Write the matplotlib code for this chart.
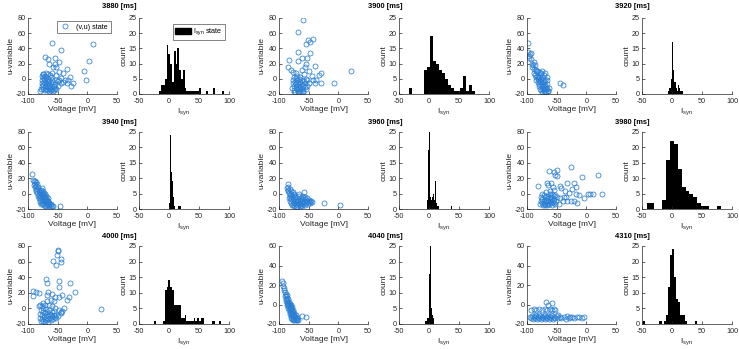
import matplotlib
matplotlib.use('Agg')
import matplotlib.pyplot as plt
from matplotlib.patches import Patch
import numpy as np

plt.rcParams['font.family'] = ['Liberation Sans', 'DejaVu Sans']
plt.rcParams['axes.unicode_minus'] = False
plt.rcParams['mathtext.fontset'] = 'custom'
plt.rcParams['mathtext.rm'] = 'Liberation Sans'
plt.rcParams['mathtext.it'] = 'Liberation Sans:italic'

# ---------------- data ----------------
times = ['3880', '3900', '3920', '3940', '3960', '3980', '4000', '4040', '4310']

pts_3880 = [(-60,47),(-44,38),(10,46),(2,23),(-6,10),(-2,-2),(-35,13),(-29,2),(-28,-10),(-25,-5),
            (-71,29),(-67,26),(-64,20),(-55,27),(-47,22),(-55,20),(-52,16),(-58,15),(-48,9),(-41,7),
            (-44,1),(-38,-1),(-32,-2),(-41,-4),(-50,-3),(-47,-1),(-52,5),(-60,8),(-62,3),(-45,-6),(-35,-5),
            (-78,-14),(-77,-10),(-76,-6),(-76,-2),(-75,2),(-75,6),(-74,-13),(-74,-8),(-73,-4),(-73,0),
            (-72,-15),(-72,-11),(-71,-6),(-71,4),(-70,-13),(-70,-9),(-69,-2),(-69,2),(-68,-15),(-68,-7),
            (-67,-11),(-67,-4),(-66,0),(-65,-14),(-65,-8),(-64,-3),(-63,-12),(-63,5),(-62,-6),(-61,-15),
            (-60,-9),(-60,-1),(-59,-13),(-58,-4),(-57,-10),(-56,-15),(-55,-7),(-54,-12),(-53,-2),(-52,-14),
            (-50,-10),(-79,-16),(-77,4),(-74,6),(-70,7),(-66,6),(-64,-16),(-58,-16)]

pts_3900 = [(-59,78),(-68,62),(-51,51),(-43,52),(-48,48),(-55,46),(-47,34),(-68,35),(-62,28),(-52,28),
            (-68,23),(-83,25),(-55,19),(-40,17),(-32,5),(-30,7),(21,10),(-8,-6),(-29,-5),(-37,-1),
            (-84,15),(-80,12),(-76,9),(-71,7),(-62,12),(-57,15),(-49,10),(-45,4),(-43,-1),(-54,0),
            (-58,6),(-50,-5),(-40,-6),(-65,2),
            (-78,-12),(-77,-6),(-76,-1),(-75,-15),(-75,3),(-74,-9),(-73,-4),(-73,-17),(-72,-12),(-72,1),
            (-71,-7),(-70,-14),(-70,-2),(-69,-10),(-69,4),(-68,-16),(-68,-5),(-67,-12),(-66,-8),(-66,0),
            (-65,-15),(-64,-4),(-64,-11),(-63,-17),(-62,-7),(-62,-1),(-61,-13),(-60,-9),(-59,-16),(-58,-3),
            (-57,-11),(-56,-6),(-55,-14),(-53,-9),(-52,-2),(-74,-18),(-67,-18),(-60,-18)]

pts_3920 = [(-99,47),(-98,35),(-95,33),(-96,30),(-93,34),(-92,20),(-90,18),(-91,15),(-88,13),(-85,12),
            (-84,10),(-80,9),(-77,7),(-70,7),(-67,3),(-66,-1),(-63,-12),(-64,-16),(-44,-6),(-39,-8),
            (-88,8),(-86,5),(-85,2),(-84,-1),(-83,4),(-82,0),(-82,-4),(-81,2),(-80,-2),(-80,-7),
            (-79,3),(-79,-10),(-78,-4),(-78,-13),(-77,0),(-77,-8),(-76,-15),(-76,-3),(-75,-11),(-75,2),
            (-74,-6),(-74,-17),(-73,-13),(-73,-1),(-72,-9),(-72,-16),(-71,-4),(-71,-12),(-70,-17),(-70,-8),
            (-69,-14),(-69,-2),(-68,-11),(-68,-17),(-67,-14),(-66,-7),(-65,-16),(-74,10),(-72,5),(-76,6),
            (-83,10),(-86,18),(-89,22),(-94,26),(-97,28)]

pts_3940 = [(-93,25),(-91,18),(-90,16),(-89,17),(-88,13),(-87,15),(-86,10),(-85,12),(-84,6),(-83,8),
            (-82,3),(-81,5),(-80,0),(-79,2),(-78,-3),(-77,-1),(-76,-5),(-75,-2),(-74,-8),(-73,-4),
            (-72,-10),(-71,-7),(-70,-12),(-69,-9),(-68,-14),(-67,-11),(-66,-15),(-65,-13),(-64,-16),(-63,-15),
            (-62,-16),(-60,-16),(-58,-16),(-46,-16),
            (-84,1),(-82,-2),(-80,-5),(-79,-8),(-77,-10),(-76,-12),(-75,-14),(-73,-15),(-72,-16),(-70,-16),
            (-78,5),(-76,2),(-74,-1),(-72,-4),(-70,-6),(-68,-8),(-67,-6),(-66,-10),(-64,-12),(-62,-13),
            (-80,-11),(-78,-13),(-77,7),(-75,4),(-73,1),(-71,-1),(-69,-3),(-81,-6),(-83,-3),(-86,3),
            (-88,8),(-90,11),(-87,5)]

pts_3960 = [(-85,12),(-86,7),(-85,5),(-84,3),(-83,1),(-82,-2),(-81,-4),(-80,0),(-79,-7),(-78,-3),
            (-77,-10),(-76,-6),(-75,-12),(-74,-2),(-73,-9),(-72,-14),(-71,-5),(-70,-11),(-69,-15),(-68,-8),
            (-67,-3),(-66,-13),(-65,-10),(-64,-16),(-63,-6),(-62,-12),(-61,-9),(-60,-14),(-59,-4),(-58,-11),
            (-57,-7),(-56,-15),(-55,-9),(-54,-12),(-53,-6),(-52,-10),(-51,-13),(-50,-8),(-49,-11),(-48,-9),
            (-47,-12),(-46,-10),(-45,-11),(-58,2),(-25,-12),(3,-15),
            (-82,-9),(-80,-12),(-78,-15),(-76,-14),(-74,-16),(-79,4),(-77,2),(-75,-1),(-73,-5),(-71,-8),
            (-69,-10),(-67,-12),(-65,-14),(-63,-15),(-61,-16),(-72,-17),(-70,-17),(-62,-3),(-60,-7),(-56,-4),
            (-66,-1),(-83,-6),(-84,9),(-81,6)]

pts_3980 = [(-26,34),(-49,31),(-63,29),(-54,28),(-52,24),(-50,23),(-8,22),(20,24),(-32,14),(-21,14),
            (-17,9),(-24,6),(-45,10),(-42,7),(-66,14),(-65,11),(-60,14),(-57,9),(-81,10),(3,0),
            (6,0),(11,-1),(26,-1),(-17,-1),(-12,-2),(-4,-6),(-36,3),(-29,1),(-38,-4),(-52,-2),
            (-45,-6),(-32,-9),(-26,-9),(-20,-9),(-46,-14),(-54,-12),(-55,5),(-58,0),(-62,3),(-68,2),
            (-78,-14),(-77,-9),(-76,-4),(-75,-12),(-74,-7),(-73,-15),(-72,-2),(-71,-10),(-70,-5),(-69,-13),
            (-68,-8),(-67,-15),(-66,-3),(-65,-11),(-64,-6),(-63,-14),(-62,-9),(-61,-1),(-60,-12),(-59,-5),
            (-58,-15),(-57,-8),(-56,-11),(-55,-3),(-54,-7),(-53,-14),(-51,-10),(-50,-5),(-72,-12),(-66,-9),
            (-60,-7),(-64,-13),(-70,-15),(-74,-1),(-62,-4),(-40,-10),(-35,-4),(-15,-12)]

pts_4000 = [(-50,75),(-49,73),(-51,69),(-58,61),(-44,63),(-45,60),(-52,56),(-70,38),(-68,32),(-48,35),
            (-29,32),(-48,27),(-20,21),(-91,22),(-87,21),(-92,16),(-81,20),(-66,21),(-68,17),(-60,18),
            (-55,15),(-62,11),(-57,9),(-48,15),(-42,17),(-34,11),(-31,14),(-79,5),(-82,3),(-74,7),
            (-68,9),(-60,3),(-54,0),(-45,-4),(-48,-2),(-40,0),(-43,-3),(23,-1),(-44,-6),(-52,-8),
            (-80,-12),(-79,-7),(-78,-2),(-77,-14),(-76,-9),(-75,-4),(-74,-16),(-74,1),(-73,-11),(-72,-6),
            (-71,-13),(-70,-1),(-70,-8),(-69,-15),(-68,-4),(-67,-10),(-66,-14),(-65,-7),(-64,-2),(-63,-12),
            (-62,-9),(-61,-15),(-60,-5),(-59,-11),(-58,-13),(-57,-8),(-56,-3),(-55,-11),(-53,-12),(-50,-10),
            (-78,-16),(-72,-17),(-66,-17),(-76,3),(-64,4),(-71,4)]

pts_4040 = [(-95,24),(-94,22),(-93,19),(-92,17),(-91,15),(-90,13),(-89,11),(-88,9),(-87,7),(-86,5),
            (-85,3),(-84,1),(-83,-1),(-82,-3),(-81,-5),(-80,-7),(-79,-9),(-78,-11),(-77,-12),(-76,-14),
            (-75,-15),(-74,-16),(-72,-16),(-70,-16),(-68,-16),(-62,-12),(-55,-13),
            (-90,9),(-89,6),(-88,4),(-87,2),(-86,0),(-85,-2),(-84,-4),(-83,-6),(-82,-8),(-81,-10),
            (-80,-12),(-79,-14),(-78,-15),(-77,-16),(-84,6),(-83,3),(-82,1),(-81,-1),(-80,-3),(-79,-5),
            (-78,-7),(-77,-8),(-76,-10),(-75,-11),(-74,-12),(-73,-13),(-72,-14),(-71,-15),(-70,-13),(-69,-15),
            (-76,-6),(-74,-9),(-72,-11),(-86,10),(-79,0),(-78,-3)]

pts_4310 = [(-68,3),(-58,2),(-64,-1),(-93,-6),(-88,-5),(-84,-6),(-80,-5),(-75,-6),(-70,-5),(-66,-6),
            (-62,-5),(-58,-6),(-55,-5),(-52,-6),
            (-95,-13),(-93,-14),(-91,-12),(-90,-15),(-88,-13),(-86,-14),(-85,-12),(-83,-15),(-82,-13),(-80,-14),
            (-78,-12),(-77,-15),(-75,-13),(-73,-14),(-72,-12),(-70,-15),(-68,-13),(-67,-14),(-65,-12),(-63,-15),
            (-62,-13),(-60,-14),(-58,-12),(-57,-15),(-55,-13),(-53,-14),(-50,-12),(-48,-14),(-45,-13),(-42,-14),
            (-38,-13),(-33,-12),(-30,-14),(-28,-13),(-24,-13),(-20,-14),(-16,-13),(-12,-13),(-8,-14),(-4,-13),
            (-35,-15),(-47,-11),(-60,-11),(-70,-11),(-80,-11),(-86,-11)]

scatter_pts = [pts_3880, pts_3900, pts_3920, pts_3940, pts_3960, pts_3980, pts_4000, pts_4040, pts_4310]
scatter_ymax = [80, 80, 80, 80, 80, 80, 80, 60, 60]

# histograms: (first bin edge, bin width, counts)
hist_3880 = (-16, 3, [1,3,3,5,16,13,10,4,14,10,15,8,5,8,2,1,1,1,1,1,1,1,2,0,0,0,1,0,0,0,2,0,0,0,0,1])
hist_3900 = (-34, 5, [2,0,0,0,0,8,9,19,11,10,8,7,5,3,2,1,1,2,6,1,3,1])
hist_3920 = (-6, 1, [1,2,1,2,4,5,17,9,8,6,4,4,3,2,2,1,3,1,2,1,1,1,2,1])
hist_3940 = (0, 1, [2,5,24,18,12,9,6,4,2,1,0,1,0,1,0,1,0,1,0,1])
hist_3960 = (-4, 1, [2,3,3,19,25,12,4,4,3,4,4,5,4,3,9,5,2,2,1,1,0,0,0,0,0,0,0,0,0,0,0,0,0,0,0,0,0,0,0,0,0,1])
hist_3980 = (-42.5, 6.5, [2,2,0,0,3,16,22,21,13,7,6,5,4,2,1,1,0,0,1])
hist_4000 = (-25, 3, [1,0,0,0,0,1,11,12,14,12,11,6,6,6,6,2,2,3,1,1,1,1,2,1,2,1,2,2,0,0,0,0,1,1,0,0,1])
hist_4040 = (-6, 1.5, [1,1,2,2,16,25,5,3,2,1])
hist_4310 = (-49, 3.5, [1,0,0,0,0,0,0,0,1,0,1,3,12,22,24,15,8,7,3,3,1,0,0,0,0,1])

hists = [hist_3880, hist_3900, hist_3920, hist_3940, hist_3960, hist_3980, hist_4000, hist_4040, hist_4310]

# ---------------- figure ----------------
W, H = 739, 349
fig = plt.figure(figsize=(W / 100, H / 100), dpi=100)

sc_left = [28, 279, 527]
hi_left = [139, 399, 642]
sc_w, hi_w = 89, 90
row_top = [18, 132, 246]
row_bot = [94, 209, 324]
title_x = [119, 385, 632]
title_y = [6, 122, 237]

AXC = '#262626'
BLUE = '#2a7fd4'


def style(ax):
    for s in ['top', 'right']:
        ax.spines[s].set_visible(False)
    for s in ['left', 'bottom']:
        ax.spines[s].set_linewidth(0.5)
        ax.spines[s].set_color(AXC)
    ax.tick_params(direction='in', length=2, width=0.5, labelsize=5.2, colors=AXC)
    ax.tick_params(axis='x', pad=3.2)
    ax.tick_params(axis='y', pad=1.5)


for i in range(9):
    r, c = divmod(i, 3)
    bot = 1 - row_bot[r] / H
    hgt = (row_bot[r] - row_top[r]) / H
    axs = fig.add_axes([sc_left[c] / W, bot, sc_w / W, hgt])
    pts = np.array(scatter_pts[i], dtype=float)
    axs.plot(pts[:, 0], pts[:, 1], 'o', ms=3.6, mfc='none', mec=BLUE, mew=0.55, label='(v,u) state')
    axs.set_xlim(-100, 50)
    axs.set_ylim(-20, scatter_ymax[i])
    axs.set_xticks([-100, -50, 0, 50])
    axs.set_yticks(np.arange(-20, scatter_ymax[i] + 1, 20))
    style(axs)
    axs.set_xlabel('Voltage [mV]', fontsize=6, labelpad=0.5, color=AXC)
    axs.set_ylabel('u-variable', fontsize=6, labelpad=1, color=AXC)

    axh = fig.add_axes([hi_left[c] / W, bot, hi_w / W, hgt])
    start, width, counts = hists[i]
    edges = start + width * np.arange(len(counts))
    axh.bar(edges, counts, width=width, align='edge', color='black', linewidth=0)
    axh.set_xlim(-50, 100)
    axh.set_ylim(0, 25)
    axh.set_xticks([-50, 0, 50, 100])
    axh.set_yticks([0, 5, 10, 15, 20, 25])
    style(axh)
    axh.set_xlabel(r'I$_{\mathrm{syn}}$', fontsize=6, labelpad=0.5, color=AXC)
    axh.set_ylabel('count', fontsize=6, labelpad=1, color=AXC)

    fig.text(title_x[c] / W, 1 - title_y[r] / H, times[i] + ' [ms]', ha='center', va='center',
             fontsize=5.4, fontweight='bold', color='black')

    if i == 0:
        leg = axs.legend(loc='upper right', bbox_to_anchor=(0.93, 0.96), fontsize=5.2, frameon=True,
                         fancybox=False, edgecolor=AXC, borderpad=0.35, handlelength=1.6,
                         handletextpad=0.8, borderaxespad=0)
        leg.get_frame().set_linewidth(0.5)
        legh = axh.legend(handles=[Patch(facecolor='black', edgecolor='black')],
                          labels=[r'I$_{\mathrm{syn}}$ state'], loc='upper right',
                          bbox_to_anchor=(0.96, 0.92), fontsize=5.2, frameon=True, fancybox=False,
                          edgecolor=AXC, borderpad=0.35, handlelength=2.2, handleheight=1.0,
                          handletextpad=0.3, borderaxespad=0)
        legh.get_frame().set_linewidth(0.5)

fig.savefig('out.png', dpi=100)
